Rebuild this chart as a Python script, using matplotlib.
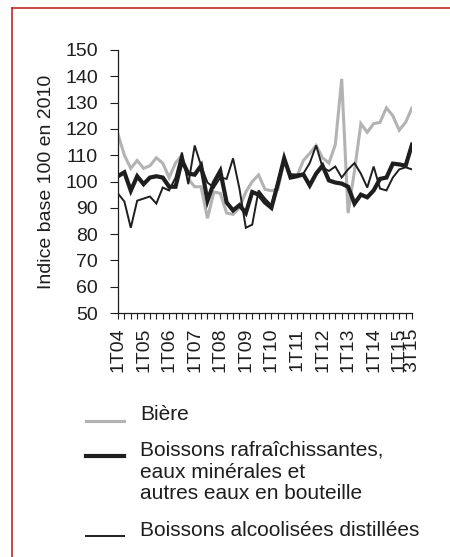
import matplotlib
matplotlib.use("Agg")
import matplotlib.pyplot as plt
from matplotlib.lines import Line2D

plt.rcParams['font.family'] = ['Liberation Sans', 'DejaVu Sans']

# quarterly index, base 100 in 2010, 1T04 .. 3T15
quarters = [f"{q}T{y:02d}" for y in range(4, 16) for q in range(1, 5)][:47]
biere = [118, 110, 105, 108, 105, 106, 109, 107, 101.5, 107,
         110, 101, 98, 98, 86, 96, 95.5, 88, 87.5, 90,
         96, 100, 102.5, 97, 96.5, 97, 108, 102.7, 102, 108,
         110.7, 113.7, 109, 107, 114, 139, 88, 104, 122, 118.7,
         122, 122.5, 128, 125, 119.5, 122.5, 128]
rafraich = [102, 103.5, 96.5, 102, 99, 101.5, 102, 101.5, 98, 98,
            108, 103, 102.6, 106, 92.7, 99.6, 104, 92, 89, 91,
            88, 96, 95, 92, 90, 99, 108.8, 101.5, 102, 102.7,
            98.5, 103, 106, 100.4, 99.6, 99.2, 98, 91.6, 95, 94,
            96.6, 101, 101.5, 106.8, 106.5, 106, 114]
distill = [95.4, 92.4, 82.4, 92.7, 93.5, 94.3, 91.6, 97.7, 96.6, 101.5,
           111, 99, 113.7, 106, 99.6, 97.7, 101.5, 101, 108.8, 97.3,
           82.4, 83.6, 96.6, 93.5, 91, 100, 108.8, 102.7, 102.7, 103,
           107, 113.7, 105.4, 104, 105.7, 101.5, 104.6, 107, 103, 97.7,
           105.7, 97.3, 96.6, 101.5, 104.6, 105.4, 104.6]
labels = ["Bière",
          "Boissons rafraîchissantes,\neaux minérales et\nautres eaux en bouteille",
          "Boissons alcoolisées distillées"]

grey = "#b3b3b3"
dark = "#1e1e1e"
W, H = 450, 557

fig = plt.figure(figsize=(4.5, 5.57), dpi=100)
ax = fig.add_axes([118 / W, 1 - 313 / H, (412 - 118) / W, (313 - 50) / H])

x = list(range(len(quarters)))
ax.plot(x, biere, color=grey, lw=2.2, solid_joinstyle='miter')
ax.plot(x, rafraich, color=dark, lw=3.0, solid_joinstyle='miter')
ax.plot(x, distill, color=dark, lw=1.4, solid_joinstyle='miter')

ax.set_xlim(0, len(quarters) - 1)
ax.set_ylim(50, 150)
ax.set_yticks(range(50, 151, 10))
ax.set_xticks(x)
shown = [q if (q.startswith("1T") or i == len(quarters) - 1) else "" for i, q in enumerate(quarters)]
ax.set_xticklabels(shown, rotation=90)
ax.tick_params(axis='both', direction='out', width=0.8, color=dark,
               labelsize=14, labelcolor=dark)
ax.tick_params(axis='y', length=5.5, pad=9)
ax.tick_params(axis='x', length=4.5, pad=6)
for s in ['top', 'right']:
    ax.spines[s].set_visible(False)
for s in ['left', 'bottom']:
    ax.spines[s].set_color(dark)
    ax.spines[s].set_linewidth(0.9)
ax.set_ylabel("Indice base 100 en 2010", fontsize=14, color=dark, labelpad=7)

# legend drawn by hand
def fx(px):
    return px / W

def fy(py):
    return 1 - py / H

# (colour, width, line y, text y)
leg = [(grey, 2.2, 421, 414, labels[0]),
       (dark, 3.0, 456, 441, labels[1]),
       (dark, 1.4, 536, 530, labels[2])]
for col, lw, ly, ty, lab in leg:
    fig.add_artist(Line2D([fx(86), fx(124)], [fy(ly), fy(ly)], color=col, lw=lw,
                          transform=fig.transFigure))
    fig.text(fx(140), fy(ty), lab, fontsize=15, color=dark,
             va='top' if '\n' in lab else 'center', ha='left', linespacing=1.17)

# red frame on left and top
fig.add_artist(Line2D([fx(12), fx(12)], [fy(8), 0], color="#c1272d", lw=1.2, transform=fig.transFigure))
fig.add_artist(Line2D([fx(12), 1], [fy(8), fy(8)], color="#c1272d", lw=1.2, transform=fig.transFigure))

fig.savefig("out.png", dpi=100, facecolor="white")
